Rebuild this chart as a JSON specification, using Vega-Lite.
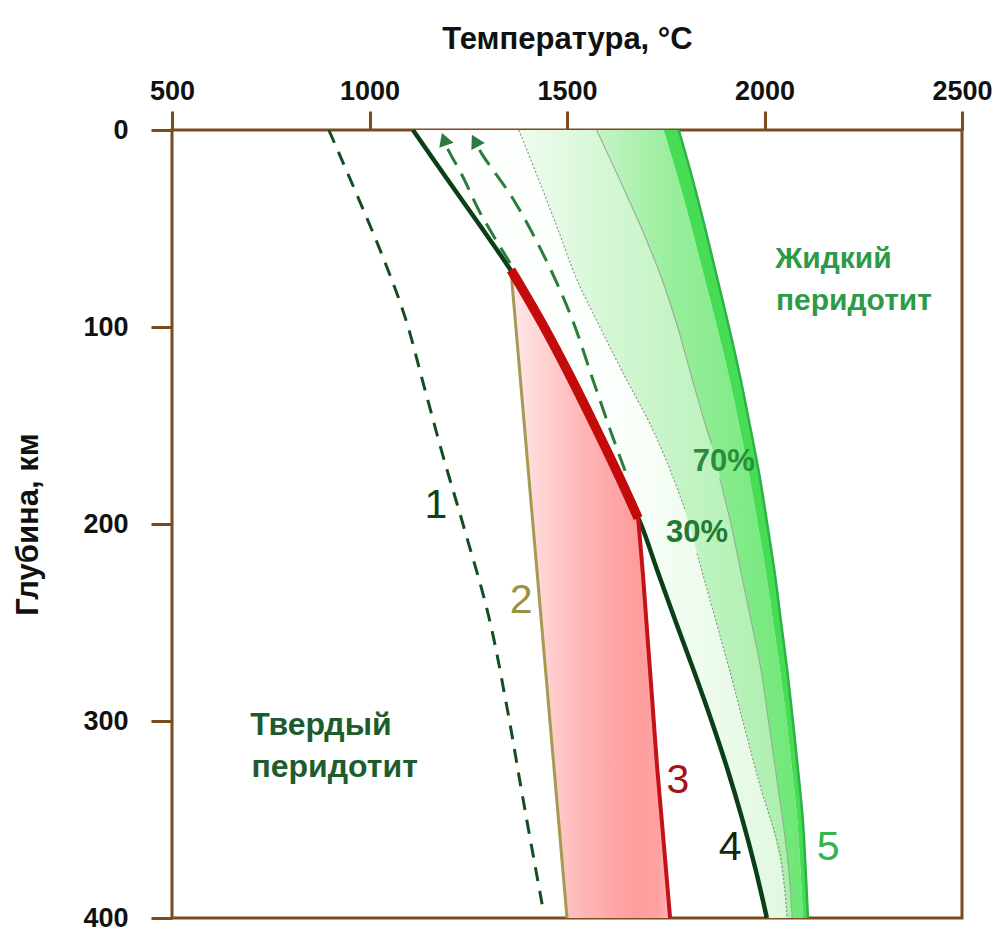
{
  "$schema": "https://vega.github.io/schema/vega-lite/v6.json",
  "width": 790,
  "height": 788,
  "autosize": {"type": "none"},
  "padding": {"left": 172, "top": 130, "right": 33, "bottom": 17},
  "background": "#ffffff",
  "config": {
    "view": {"stroke": "#7b4a1f", "strokeWidth": 3},
    "axis": {"labelFont": "Liberation Sans", "titleFont": "Liberation Sans"}
  },
  "resolve": {"scale": {"color": "independent"}},
  "datasets": {
    "band": [
      {"d": 0, "sol": 1110, "p30": 1378, "p70": 1575, "rin": 1745, "liq": 1783},
      {"d": 25, "sol": 1197, "p30": 1428, "p70": 1633, "rin": 1782, "liq": 1818},
      {"d": 50, "sol": 1285, "p30": 1476, "p70": 1689, "rin": 1816, "liq": 1850},
      {"d": 75, "sol": 1370, "p30": 1523, "p70": 1739, "rin": 1848, "liq": 1880},
      {"d": 100, "sol": 1442, "p30": 1583, "p70": 1780, "rin": 1880, "liq": 1910},
      {"d": 125, "sol": 1508, "p30": 1646, "p70": 1815, "rin": 1910, "liq": 1938},
      {"d": 150, "sol": 1570, "p30": 1712, "p70": 1851, "rin": 1936, "liq": 1963},
      {"d": 175, "sol": 1630, "p30": 1766, "p70": 1885, "rin": 1961, "liq": 1987},
      {"d": 200, "sol": 1687, "p30": 1809, "p70": 1915, "rin": 1983, "liq": 2007},
      {"d": 225, "sol": 1731, "p30": 1843, "p70": 1941, "rin": 2004, "liq": 2026},
      {"d": 250, "sol": 1776, "p30": 1878, "p70": 1967, "rin": 2022, "liq": 2042},
      {"d": 275, "sol": 1822, "p30": 1912, "p70": 1992, "rin": 2040, "liq": 2058},
      {"d": 300, "sol": 1866, "p30": 1945, "p70": 2010, "rin": 2056, "liq": 2072},
      {"d": 325, "sol": 1907, "p30": 1978, "p70": 2028, "rin": 2070, "liq": 2085},
      {"d": 350, "sol": 1944, "p30": 2014, "p70": 2046, "rin": 2083, "liq": 2097},
      {"d": 375, "sol": 1977, "p30": 2043, "p70": 2060, "rin": 2091, "liq": 2104},
      {"d": 400, "sol": 2006, "p30": 2057, "p70": 2070, "rin": 2098, "liq": 2110}
    ],
    "pink": [
      {"d": 71, "left": 1358, "right": 1358},
      {"d": 85, "left": 1364, "right": 1399},
      {"d": 103, "left": 1372, "right": 1450},
      {"d": 120, "left": 1379, "right": 1495},
      {"d": 135, "left": 1386, "right": 1533},
      {"d": 150, "left": 1392, "right": 1570},
      {"d": 169, "left": 1400, "right": 1616},
      {"d": 185, "left": 1407, "right": 1652},
      {"d": 197, "left": 1412, "right": 1680},
      {"d": 225, "left": 1424, "right": 1692},
      {"d": 255, "left": 1437, "right": 1703},
      {"d": 290, "left": 1452, "right": 1716},
      {"d": 323, "left": 1467, "right": 1728},
      {"d": 360, "left": 1483, "right": 1744},
      {"d": 400, "left": 1500, "right": 1761}
    ],
    "lines": [
      {"id": "c1", "seg": "a", "d": 0, "T": 897},
      {"id": "c1", "seg": "a", "d": 61, "T": 1027},
      {"id": "c1", "seg": "a", "d": 95, "T": 1090},
      {"id": "c1", "seg": "a", "d": 130, "T": 1138},
      {"id": "c1", "seg": "a", "d": 164, "T": 1184},
      {"id": "c1", "seg": "a", "d": 201, "T": 1238},
      {"id": "c1", "seg": "a", "d": 247, "T": 1302},
      {"id": "c1", "seg": "a", "d": 293, "T": 1348},
      {"id": "c1", "seg": "a", "d": 340, "T": 1389},
      {"id": "c1", "seg": "a", "d": 393, "T": 1437},
      {"id": "c2", "seg": "a", "d": 71, "T": 1358},
      {"id": "c2", "seg": "a", "d": 400, "T": 1500},
      {"id": "red1", "seg": "a", "d": 71, "T": 1358},
      {"id": "red1", "seg": "a", "d": 75, "T": 1370},
      {"id": "red1", "seg": "a", "d": 100, "T": 1442},
      {"id": "red1", "seg": "a", "d": 125, "T": 1508},
      {"id": "red1", "seg": "a", "d": 150, "T": 1570},
      {"id": "red1", "seg": "a", "d": 175, "T": 1630},
      {"id": "red1", "seg": "a", "d": 197, "T": 1680},
      {"id": "red2", "seg": "a", "d": 197, "T": 1680},
      {"id": "red2", "seg": "a", "d": 225, "T": 1692},
      {"id": "red2", "seg": "a", "d": 255, "T": 1703},
      {"id": "red2", "seg": "a", "d": 290, "T": 1716},
      {"id": "red2", "seg": "a", "d": 323, "T": 1728},
      {"id": "red2", "seg": "a", "d": 360, "T": 1744},
      {"id": "red2", "seg": "a", "d": 400, "T": 1761},
      {"id": "a1", "seg": "a", "d": 67.5, "T": 1356},
      {"id": "a1", "seg": "a", "d": 42, "T": 1280},
      {"id": "a1", "seg": "a", "d": 24, "T": 1237},
      {"id": "a1", "seg": "a", "d": 9, "T": 1197},
      {"id": "a1", "seg": "a", "d": 6, "T": 1192},
      {"id": "a2", "seg": "b", "d": 173, "T": 1647},
      {"id": "a2", "seg": "b", "d": 156, "T": 1616},
      {"id": "a2", "seg": "b", "d": 127, "T": 1566},
      {"id": "a2", "seg": "b", "d": 96, "T": 1513},
      {"id": "a2", "seg": "b", "d": 66, "T": 1447},
      {"id": "a2", "seg": "b", "d": 35.5, "T": 1365},
      {"id": "a2", "seg": "b", "d": 12, "T": 1284},
      {"id": "a2", "seg": "b", "d": 7, "T": 1271},
      {"id": "p30", "seg": "a", "d": 0, "T": 1378},
      {"id": "p30", "seg": "a", "d": 25, "T": 1428},
      {"id": "p30", "seg": "a", "d": 50, "T": 1476},
      {"id": "p30", "seg": "a", "d": 75, "T": 1523},
      {"id": "p30", "seg": "a", "d": 100, "T": 1583},
      {"id": "p30", "seg": "a", "d": 125, "T": 1646},
      {"id": "p30", "seg": "a", "d": 150, "T": 1712},
      {"id": "p30", "seg": "a", "d": 175, "T": 1766},
      {"id": "p30", "seg": "a", "d": 193, "T": 1799},
      {"id": "p30", "seg": "b", "d": 215, "T": 1829},
      {"id": "p30", "seg": "b", "d": 250, "T": 1878},
      {"id": "p30", "seg": "b", "d": 279, "T": 1918},
      {"id": "p30", "seg": "b", "d": 300, "T": 1945},
      {"id": "p30", "seg": "b", "d": 333, "T": 1989},
      {"id": "p30", "seg": "b", "d": 367, "T": 2039},
      {"id": "p30", "seg": "b", "d": 400, "T": 2057},
      {"id": "p70", "seg": "a", "d": 0, "T": 1575},
      {"id": "p70", "seg": "a", "d": 25, "T": 1633},
      {"id": "p70", "seg": "a", "d": 50, "T": 1689},
      {"id": "p70", "seg": "a", "d": 75, "T": 1739},
      {"id": "p70", "seg": "a", "d": 100, "T": 1780},
      {"id": "p70", "seg": "a", "d": 125, "T": 1815},
      {"id": "p70", "seg": "a", "d": 150, "T": 1851},
      {"id": "p70", "seg": "a", "d": 159, "T": 1866},
      {"id": "p70", "seg": "b", "d": 177, "T": 1887},
      {"id": "p70", "seg": "b", "d": 200, "T": 1915},
      {"id": "p70", "seg": "b", "d": 225, "T": 1941},
      {"id": "p70", "seg": "b", "d": 250, "T": 1967},
      {"id": "p70", "seg": "b", "d": 275, "T": 1992},
      {"id": "p70", "seg": "b", "d": 300, "T": 2010},
      {"id": "p70", "seg": "b", "d": 325, "T": 2028},
      {"id": "p70", "seg": "b", "d": 350, "T": 2046},
      {"id": "p70", "seg": "b", "d": 375, "T": 2061},
      {"id": "p70", "seg": "b", "d": 400, "T": 2070}
    ],
    "arrows": [
      {"id": "a1", "d": 4.6, "T": 1189},
      {"id": "a2", "d": 5.4, "T": 1267}
    ],
    "labels": [
      {"id": "1", "text": "1", "T": 1168, "d": 197},
      {"id": "2", "text": "2", "T": 1384, "d": 245},
      {"id": "3", "text": "3", "T": 1781, "d": 336.5},
      {"id": "4", "text": "4", "T": 1913, "d": 370.6},
      {"id": "5", "text": "5", "T": 2161, "d": 370.6},
      {"id": "30", "text": "30%", "T": 1829, "d": 209},
      {"id": "70", "text": "70%", "T": 1897, "d": 173},
      {"id": "liq", "text": "Жидкий", "T": 2027, "d": 70},
      {"id": "liq", "text": "перидотит", "T": 2029, "d": 91.4},
      {"id": "sol", "text": "Твердый", "T": 698, "d": 307},
      {"id": "sol", "text": "перидотит", "T": 701, "d": 328.4}
    ]
  },
  "encoding": {
    "y": {
      "field": "d",
      "type": "quantitative",
      "scale": {"domain": [0, 400], "reverse": true, "nice": false, "zero": false},
      "axis": {
        "values": [0, 100, 200, 300, 400],
        "title": "Глубина, км",
        "titleFontSize": 31,
        "titleFontWeight": "bold",
        "titleColor": "#111111",
        "titlePadding": 38,
        "labelFontSize": 27,
        "labelFontWeight": "bold",
        "labelColor": "#111111",
        "labelPadding": 23,
        "tickSize": 21,
        "tickWidth": 3,
        "tickColor": "#7b4a1f",
        "domain": false,
        "grid": false,
        "labelFlush": false,
        "labelOverlap": false,
        "format": "d"
      }
    }
  },
  "layer": [
    {
      "data": {"name": "pink"},
      "mark": {
        "type": "area",
        "orient": "horizontal",
        "interpolate": "catmull-rom",
        "fill": {
          "gradient": "linear", "x1": 0, "y1": 0, "x2": 1, "y2": 0,
          "stops": [
            {"offset": 0, "color": "#ffeaea"},
            {"offset": 0.45, "color": "#ffb6b6"},
            {"offset": 0.78, "color": "#ff9c9c"},
            {"offset": 0.93, "color": "#ffa2a2"},
            {"offset": 1, "color": "#ffb8b8"}
          ]
        }
      },
      "encoding": {
        "x": {
          "field": "left",
          "type": "quantitative",
          "scale": {"domain": [500, 2500], "nice": false, "zero": false},
          "axis": {
            "orient": "top",
            "values": [500, 1000, 1500, 2000, 2500],
            "title": "Температура, °C",
            "titleFontSize": 31,
            "titleFontWeight": "bold",
            "titleColor": "#111111",
            "titlePadding": 22,
            "labelFontSize": 27,
            "labelFontWeight": "bold",
            "labelColor": "#111111",
            "labelPadding": 6,
            "tickSize": 19,
            "tickWidth": 3,
            "tickColor": "#7b4a1f",
            "domain": false,
            "grid": false,
            "labelFlush": false,
            "labelOverlap": false,
            "format": "d"
          }
        },
        "x2": {"field": "right"}
      }
    },
    {
      "data": {"name": "band"},
      "mark": {
        "type": "area",
        "orient": "horizontal",
        "interpolate": "catmull-rom",
        "fill": {
          "gradient": "linear", "x1": 0, "y1": 0, "x2": 1, "y2": 0,
          "stops": [
            {"offset": 0, "color": "#ffffff"},
            {"offset": 0.55, "color": "#fbfffb"},
            {"offset": 1, "color": "#e0f8e0"}
          ]
        }
      },
      "encoding": {
        "x": {"field": "sol", "type": "quantitative", "scale": {"domain": [500, 2500], "nice": false, "zero": false}},
        "x2": {"field": "p30"}
      }
    },
    {
      "data": {"name": "band"},
      "mark": {
        "type": "area",
        "orient": "horizontal",
        "interpolate": "catmull-rom",
        "fill": {
          "gradient": "linear", "x1": 0, "y1": 0, "x2": 1, "y2": 0,
          "stops": [
            {"offset": 0, "color": "#effcef"},
            {"offset": 0.3, "color": "#d6f7d6"},
            {"offset": 1, "color": "#aaefac"}
          ]
        }
      },
      "encoding": {
        "x": {"field": "p30", "type": "quantitative", "scale": {"domain": [500, 2500], "nice": false, "zero": false}},
        "x2": {"field": "p70"}
      }
    },
    {
      "data": {"name": "band"},
      "mark": {
        "type": "area",
        "orient": "horizontal",
        "interpolate": "catmull-rom",
        "fill": {
          "gradient": "linear", "x1": 0, "y1": 0, "x2": 1, "y2": 0,
          "stops": [
            {"offset": 0, "color": "#c6f4c6"},
            {"offset": 0.35, "color": "#9aee9d"},
            {"offset": 1, "color": "#6de775"}
          ]
        }
      },
      "encoding": {
        "x": {"field": "p70", "type": "quantitative", "scale": {"domain": [500, 2500], "nice": false, "zero": false}},
        "x2": {"field": "rin"}
      }
    },
    {
      "data": {"name": "band"},
      "mark": {"type": "area", "orient": "horizontal", "interpolate": "catmull-rom", "fill": "#46dd55"},
      "encoding": {
        "x": {"field": "rin", "type": "quantitative", "scale": {"domain": [500, 2500], "nice": false, "zero": false}},
        "x2": {"field": "liq"}
      }
    },
    {
      "data": {"name": "lines"},
      "transform": [{"filter": "datum.id == 'p30'"}],
      "mark": {"type": "line", "interpolate": "catmull-rom", "stroke": "#8c8c8c", "strokeWidth": 1.1, "strokeDash": [2, 2]},
      "encoding": {
        "x": {"field": "T", "type": "quantitative", "scale": {"domain": [500, 2500], "nice": false, "zero": false}},
        "detail": {"field": "seg"},
        "order": {"field": "d"}
      }
    },
    {
      "data": {"name": "lines"},
      "transform": [{"filter": "datum.id == 'p70'"}],
      "mark": {"type": "line", "interpolate": "catmull-rom", "stroke": "#93ad93", "strokeWidth": 1.1},
      "encoding": {
        "x": {"field": "T", "type": "quantitative", "scale": {"domain": [500, 2500], "nice": false, "zero": false}},
        "detail": {"field": "seg"},
        "order": {"field": "d"}
      }
    },
    {
      "data": {"name": "lines"},
      "transform": [{"filter": "datum.id == 'c1'"}],
      "mark": {"type": "line", "interpolate": "catmull-rom", "stroke": "#134d20", "strokeWidth": 3, "strokeDash": [14, 10]},
      "encoding": {
        "x": {"field": "T", "type": "quantitative", "scale": {"domain": [500, 2500], "nice": false, "zero": false}},
        "order": {"field": "d"}
      }
    },
    {
      "data": {"name": "lines"},
      "transform": [{"filter": "datum.id == 'c2'"}],
      "mark": {"type": "line", "stroke": "#a69a52", "strokeWidth": 3},
      "encoding": {
        "x": {"field": "T", "type": "quantitative", "scale": {"domain": [500, 2500], "nice": false, "zero": false}},
        "order": {"field": "d"}
      }
    },
    {
      "data": {"name": "band"},
      "mark": {"type": "line", "interpolate": "catmull-rom", "stroke": "#0d3f17", "strokeWidth": 4.5},
      "encoding": {
        "x": {"field": "sol", "type": "quantitative", "scale": {"domain": [500, 2500], "nice": false, "zero": false}},
        "order": {"field": "d"}
      }
    },
    {
      "data": {"name": "lines"},
      "transform": [{"filter": "datum.id == 'red2'"}],
      "mark": {"type": "line", "interpolate": "catmull-rom", "stroke": "#c4121a", "strokeWidth": 4},
      "encoding": {
        "x": {"field": "T", "type": "quantitative", "scale": {"domain": [500, 2500], "nice": false, "zero": false}},
        "order": {"field": "d"}
      }
    },
    {
      "data": {"name": "lines"},
      "transform": [{"filter": "datum.id == 'red1'"}],
      "mark": {"type": "line", "interpolate": "catmull-rom", "stroke": "#c40b0b", "strokeWidth": 9.5},
      "encoding": {
        "x": {"field": "T", "type": "quantitative", "scale": {"domain": [500, 2500], "nice": false, "zero": false}},
        "order": {"field": "d"}
      }
    },
    {
      "data": {"name": "lines"},
      "transform": [{"filter": "datum.id == 'a1' || datum.id == 'a2'"}],
      "mark": {"type": "line", "interpolate": "catmull-rom", "stroke": "#2a7d3c", "strokeWidth": 3, "strokeDash": [18, 10]},
      "encoding": {
        "x": {"field": "T", "type": "quantitative", "scale": {"domain": [500, 2500], "nice": false, "zero": false}},
        "detail": {"field": "id"},
        "order": {"field": "d", "sort": "descending"}
      }
    },
    {
      "data": {"name": "arrows"},
      "transform": [{"filter": "datum.id == 'a1'"}],
      "mark": {"type": "point", "shape": "triangle-up", "filled": true, "fill": "#2a7d3c", "opacity": 1, "size": 230, "angle": -20, "strokeWidth": 0},
      "encoding": {
        "x": {"field": "T", "type": "quantitative", "scale": {"domain": [500, 2500], "nice": false, "zero": false}}
      }
    },
    {
      "data": {"name": "arrows"},
      "transform": [{"filter": "datum.id == 'a2'"}],
      "mark": {"type": "point", "shape": "triangle-up", "filled": true, "fill": "#2a7d3c", "opacity": 1, "size": 230, "angle": -28, "strokeWidth": 0},
      "encoding": {
        "x": {"field": "T", "type": "quantitative", "scale": {"domain": [500, 2500], "nice": false, "zero": false}}
      }
    },
    {
      "data": {"name": "band"},
      "mark": {"type": "line", "interpolate": "catmull-rom", "stroke": "#2cb347", "strokeWidth": 2.5},
      "encoding": {
        "x": {"field": "liq", "type": "quantitative", "scale": {"domain": [500, 2500], "nice": false, "zero": false}},
        "order": {"field": "d"}
      }
    },
    {
      "data": {"name": "labels"},
      "transform": [{"filter": "indexof(['1','2','3','4','5'], datum.id) >= 0"}],
      "mark": {"type": "text", "font": "Liberation Sans", "fontSize": 41, "align": "center", "baseline": "alphabetic"},
      "encoding": {
        "x": {"field": "T", "type": "quantitative", "scale": {"domain": [500, 2500], "nice": false, "zero": false}},
        "text": {"field": "text"},
        "color": {
          "field": "id",
          "type": "nominal",
          "scale": {"domain": ["1", "2", "3", "4", "5"], "range": ["#10401a", "#9c9044", "#a3131c", "#10290f", "#2fb54b"]},
          "legend": null
        }
      }
    },
    {
      "data": {"name": "labels"},
      "transform": [{"filter": "datum.id == '30'"}],
      "mark": {"type": "text", "font": "Liberation Sans", "fontWeight": "bold", "fontSize": 31, "align": "center", "baseline": "alphabetic", "fill": "#1e7a34"},
      "encoding": {
        "x": {"field": "T", "type": "quantitative", "scale": {"domain": [500, 2500], "nice": false, "zero": false}},
        "text": {"field": "text"}
      }
    },
    {
      "data": {"name": "labels"},
      "transform": [{"filter": "datum.id == '70'"}],
      "mark": {"type": "text", "font": "Liberation Sans", "fontWeight": "bold", "fontSize": 31, "align": "center", "baseline": "alphabetic", "fill": "#2a8c3c"},
      "encoding": {
        "x": {"field": "T", "type": "quantitative", "scale": {"domain": [500, 2500], "nice": false, "zero": false}},
        "text": {"field": "text"}
      }
    },
    {
      "data": {"name": "labels"},
      "transform": [{"filter": "datum.id == 'liq'"}],
      "mark": {"type": "text", "font": "Liberation Sans", "fontWeight": "bold", "fontSize": 30, "align": "left", "baseline": "alphabetic", "fill": "#2e9a47"},
      "encoding": {
        "x": {"field": "T", "type": "quantitative", "scale": {"domain": [500, 2500], "nice": false, "zero": false}},
        "text": {"field": "text"}
      }
    },
    {
      "data": {"name": "labels"},
      "transform": [{"filter": "datum.id == 'sol'"}],
      "mark": {"type": "text", "font": "Liberation Sans", "fontWeight": "bold", "fontSize": 32, "align": "left", "baseline": "alphabetic", "fill": "#1e5b2d"},
      "encoding": {
        "x": {"field": "T", "type": "quantitative", "scale": {"domain": [500, 2500], "nice": false, "zero": false}},
        "text": {"field": "text"}
      }
    }
  ]
}
